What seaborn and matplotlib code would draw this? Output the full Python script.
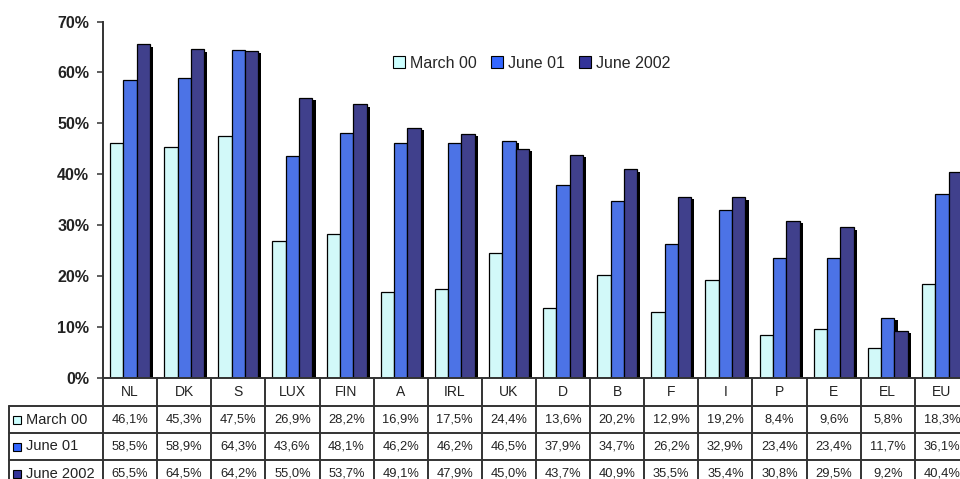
import matplotlib
matplotlib.use("Agg")
import matplotlib.pyplot as plt
import matplotlib.patheffects as pe
from matplotlib.lines import Line2D
from matplotlib.patches import Patch
import seaborn as sns
import pandas as pd

countries = ["NL", "DK", "S", "LUX", "FIN", "A", "IRL", "UK", "D", "B", "F", "I", "P", "E", "EL", "EU"]
march_00 = [46.1, 45.3, 47.5, 26.9, 28.2, 16.9, 17.5, 24.4, 13.6, 20.2, 12.9, 19.2, 8.4, 9.6, 5.8, 18.3]
june_01 = [58.5, 58.9, 64.3, 43.6, 48.1, 46.2, 46.2, 46.5, 37.9, 34.7, 26.2, 32.9, 23.4, 23.4, 11.7, 36.1]
june_2002 = [65.5, 64.5, 64.2, 55.0, 53.7, 49.1, 47.9, 45.0, 43.7, 40.9, 35.5, 35.4, 30.8, 29.5, 9.2, 40.4]
series_names = ["March 00", "June 01", "June 2002"]
y_ticks = [0, 10, 20, 30, 40, 50, 60, 70]

colors = ["#ccffff", "#3366ff", "#333399"]

sns.set_style("white")
plt.rcParams["font.family"] = ["Liberation Sans", "DejaVu Sans"]

series_values = [march_00, june_01, june_2002]
rows = []
for name, vals in zip(series_names, series_values):
    for c, v in zip(countries, vals):
        rows.append({"country": c, "series": name, "value": v})
df = pd.DataFrame(rows)

W, H = 960, 479
fig = plt.figure(figsize=(W / 100, H / 100), dpi=100)
AX_L, AX_R, AX_T, AX_B = 103, 969, 21.5, 377.5
ax = fig.add_axes([AX_L / W, (H - AX_B) / H, (AX_R - AX_L) / W, (AX_B - AX_T) / H])

sns.barplot(data=df, x="country", y="value", hue="series", order=countries,
            hue_order=series_names, palette=colors, width=0.74,
            edgecolor="black", linewidth=0.9, ax=ax, legend=False)

shadow = [pe.SimplePatchShadow(offset=(2.2, -1.6), shadow_rgbFace="black", alpha=1.0), pe.Normal()]
for p in ax.patches:
    p.set_path_effects(shadow)

ax.set_xlim(-0.5, len(countries) - 0.5)
ax.set_ylim(0, 70)
ax.set_yticks(y_ticks)
ax.set_yticklabels([f"{t}%" for t in y_ticks], fontsize=11.5, fontweight="bold", color="#222222")
ax.set_xticks([])
ax.set_xlabel("")
ax.set_ylabel("")
ax.tick_params(axis="y", left=True, length=4, width=1.1, color="#333333", pad=6, direction="out")
for s in ["top", "right"]:
    ax.spines[s].set_visible(False)
ax.spines["left"].set_color("#333333")
ax.spines["left"].set_linewidth(1.4)
ax.spines["bottom"].set_color("#333333")
ax.spines["bottom"].set_linewidth(1.4)


def axx(px):
    return (px - AX_L) / (AX_R - AX_L)


def axy(py):
    return (AX_B - py) / (AX_B - AX_T)


lc = "#333333"
lw = 1.4
tr_x = ax.get_xaxis_transform()  # x data, y axes
# vertical lines between categories (and left boundary)
for i in range(len(countries) + 1):
    ax.add_line(Line2D([i - 0.5, i - 0.5], [0, axy(490)], transform=tr_x, color=lc, lw=lw, clip_on=False))
# horizontal table lines
row_lines = [405.7, 433, 460]
for py in row_lines:
    ax.add_line(Line2D([axx(9), 1.0], [axy(py), axy(py)], transform=ax.transAxes, color=lc, lw=lw, clip_on=False))
# left border of row-label column
ax.add_line(Line2D([axx(9), axx(9)], [axy(405.7), axy(490)], transform=ax.transAxes, color=lc, lw=lw, clip_on=False))

# category header
for i, c in enumerate(countries):
    ax.text(i, axy(392), c, transform=tr_x, ha="center", va="center", fontsize=10, color="#222222", clip_on=False)

# table rows
row_centers = [419.5, 446.5, 473.5]
for name, vals, col, pyc in zip(series_names, series_values, colors, row_centers):
    ax.add_line(Line2D([axx(17)], [axy(pyc)], transform=ax.transAxes, marker="s", markersize=6,
                       markerfacecolor=col, markeredgecolor="black", markeredgewidth=0.8,
                       linestyle="none", clip_on=False))
    ax.text(axx(26), axy(pyc), name, transform=ax.transAxes, ha="left", va="center",
            fontsize=10.5, color="#222222", clip_on=False)
    for i, v in enumerate(vals):
        ax.text(i, axy(pyc), f"{v:.1f}%".replace(".", ","), transform=tr_x, ha="center", va="center",
                fontsize=9.3, color="#222222", clip_on=False)

# legend
handles = [Patch(facecolor=c, edgecolor="black", linewidth=0.8) for c in colors]
fig.legend(handles, series_names, loc="center", bbox_to_anchor=(532 / W, 1 - 63 / H),
           ncol=3, frameon=False, fontsize=11.5, handlelength=0.75, handleheight=0.75,
           handletextpad=0.3, columnspacing=0.9, borderpad=0)

fig.savefig("out.png", dpi=100)
